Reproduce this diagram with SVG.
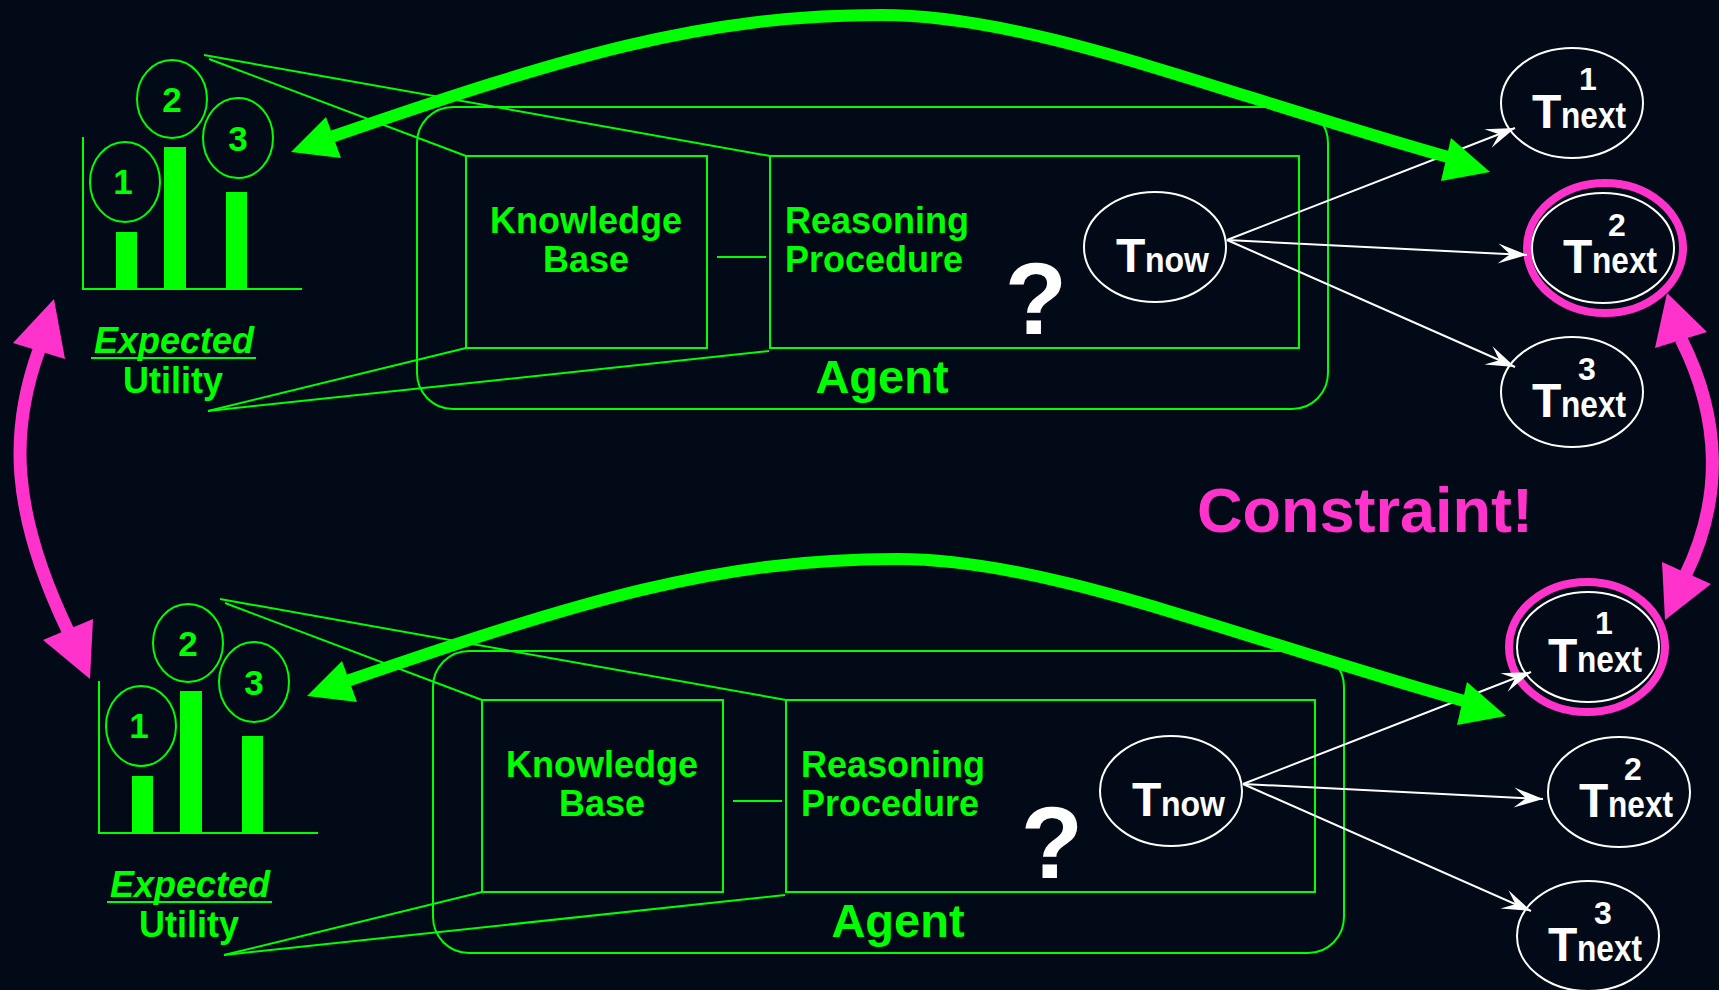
<svg xmlns="http://www.w3.org/2000/svg" width="1719" height="990" viewBox="0 0 1719 990">
<defs>
<style>
.g{fill:none;stroke:#00ff00;stroke-width:2}
.gf{fill:#00ff00}
.gt{fill:#00ff00;font-family:"Liberation Sans",Arial,sans-serif;font-weight:bold}
.w{fill:none;stroke:#ffffff;stroke-width:2}
.wt{fill:#ffffff;font-family:"Liberation Sans",Arial,sans-serif;font-weight:bold}
.big{fill:none;stroke:#00ff00;stroke-width:12}
.mag{fill:none;stroke:#ff33cc;stroke-width:13}
.mf{fill:#ff33cc}
.ring{fill:none;stroke:#ff33cc;stroke-width:8}
</style>
<marker id="wa" markerUnits="userSpaceOnUse" markerWidth="32" markerHeight="24" viewBox="-30 -12 32 24" refX="0" refY="0" orient="auto">
<path d="M0,0 L-29,-10 L-17,0 L-29,10 Z" fill="#ffffff"/>
</marker>
</defs>
<rect x="0" y="0" width="1719" height="990" fill="#010a16"/>

<!-- ===== TOP SCENARIO ===== -->
<g id="eu-top">
<line class="g" x1="83" y1="137" x2="83" y2="290" stroke-width="3"/>
<line class="g" x1="82" y1="289" x2="302" y2="289" stroke-width="3"/>
<rect class="gf" x="116" y="232" width="21" height="57"/>
<rect class="gf" x="164" y="147" width="22" height="142"/>
<rect class="gf" x="226" y="192" width="21" height="97"/>
<ellipse class="g" cx="125" cy="182" rx="35" ry="40"/>
<ellipse class="g" cx="172" cy="99" rx="35" ry="39"/>
<ellipse class="g" cx="238" cy="138" rx="35" ry="40"/>
<text class="gt" x="123" y="194" font-size="35" text-anchor="middle">1</text>
<text class="gt" x="172" y="112" font-size="35" text-anchor="middle">2</text>
<text class="gt" x="238" y="151" font-size="35" text-anchor="middle">3</text>
<text class="gt" x="174" y="353" font-size="36" font-style="italic" text-anchor="middle">Expected</text>
<line class="g" x1="91" y1="358" x2="256" y2="358" stroke-width="3"/>
<text class="gt" x="173" y="393" font-size="36" text-anchor="middle">Utility</text>
</g>

<g id="links-top">
<line class="g" x1="204" y1="55" x2="770" y2="156"/>
<line class="g" x1="209" y1="59" x2="466" y2="156"/>
<line class="g" x1="208" y1="411" x2="466" y2="348"/>
<line class="g" x1="208" y1="411" x2="769" y2="351"/>
</g>

<g id="agent-top">
<rect class="g" x="417" y="107" width="911" height="302" rx="36" ry="36" stroke-width="3"/>
<text class="gt" x="882" y="393" font-size="47" text-anchor="middle">Agent</text>
</g>
<g id="kb-top">
<rect class="g" x="466" y="156" width="241" height="192"/>
<text class="gt" x="586" y="233" font-size="36" text-anchor="middle">Knowledge</text>
<text class="gt" x="586" y="272" font-size="36" text-anchor="middle">Base</text>
</g>
<line class="g" x1="717" y1="257" x2="766" y2="257"/>
<g id="rp-top">
<rect class="g" x="770" y="156" width="529" height="192"/>
<text class="gt" x="785" y="233" font-size="36">Reasoning</text>
<text class="gt" x="785" y="272" font-size="36">Procedure</text>
<text class="wt" x="1036" y="334" font-size="102" text-anchor="middle">?</text>
</g>
<g id="tnow-top">
<ellipse class="w" cx="1155" cy="247" rx="71" ry="55"/>
<text class="wt" x="1116" y="272" font-size="48">T</text>
<text class="wt" x="1145" y="272" font-size="35" textLength="64" lengthAdjust="spacingAndGlyphs">now</text>
</g>
<g id="tnext1-top">
<ellipse class="w" cx="1572" cy="103" rx="71" ry="55"/>
<text class="wt" x="1532" y="128" font-size="48">T</text>
<text class="wt" x="1561" y="128" font-size="37" textLength="65" lengthAdjust="spacingAndGlyphs">next</text>
<text class="wt" x="1588" y="90" font-size="32" text-anchor="middle">1</text>
</g>
<g id="tnext2-top">
<ellipse class="ring" cx="1605" cy="248" rx="78" ry="65"/>
<ellipse class="w" cx="1603" cy="248" rx="71" ry="55"/>
<text class="wt" x="1563" y="273" font-size="48">T</text>
<text class="wt" x="1592" y="273" font-size="37" textLength="65" lengthAdjust="spacingAndGlyphs">next</text>
<text class="wt" x="1617" y="236" font-size="32" text-anchor="middle">2</text>
</g>
<g id="tnext3-top">
<ellipse class="w" cx="1572" cy="392" rx="71" ry="55"/>
<text class="wt" x="1532" y="417" font-size="48">T</text>
<text class="wt" x="1561" y="417" font-size="37" textLength="65" lengthAdjust="spacingAndGlyphs">next</text>
<text class="wt" x="1587" y="380" font-size="32" text-anchor="middle">3</text>
</g>

<!-- ===== BOTTOM SCENARIO ===== -->
<g id="eu-bottom" transform="translate(16,544)">
<line class="g" x1="83" y1="137" x2="83" y2="290" stroke-width="3"/>
<line class="g" x1="82" y1="289" x2="302" y2="289" stroke-width="3"/>
<rect class="gf" x="116" y="232" width="21" height="57"/>
<rect class="gf" x="164" y="147" width="22" height="142"/>
<rect class="gf" x="226" y="192" width="21" height="97"/>
<ellipse class="g" cx="125" cy="182" rx="35" ry="40"/>
<ellipse class="g" cx="172" cy="99" rx="35" ry="39"/>
<ellipse class="g" cx="238" cy="138" rx="35" ry="40"/>
<text class="gt" x="123" y="194" font-size="35" text-anchor="middle">1</text>
<text class="gt" x="172" y="112" font-size="35" text-anchor="middle">2</text>
<text class="gt" x="238" y="151" font-size="35" text-anchor="middle">3</text>
<text class="gt" x="174" y="353" font-size="36" font-style="italic" text-anchor="middle">Expected</text>
<line class="g" x1="91" y1="358" x2="256" y2="358" stroke-width="3"/>
<text class="gt" x="173" y="393" font-size="36" text-anchor="middle">Utility</text>
</g>

<g id="links-bottom" transform="translate(16,544)">
<line class="g" x1="204" y1="55" x2="770" y2="156"/>
<line class="g" x1="209" y1="59" x2="466" y2="156"/>
<line class="g" x1="208" y1="411" x2="466" y2="348"/>
<line class="g" x1="208" y1="411" x2="769" y2="351"/>
</g>

<g id="agent-bottom" transform="translate(16,544)">
<rect class="g" x="417" y="107" width="911" height="302" rx="36" ry="36" stroke-width="3"/>
<text class="gt" x="882" y="393" font-size="47" text-anchor="middle">Agent</text>
</g>
<g id="kb-bottom" transform="translate(16,544)">
<rect class="g" x="466" y="156" width="241" height="192"/>
<text class="gt" x="586" y="233" font-size="36" text-anchor="middle">Knowledge</text>
<text class="gt" x="586" y="272" font-size="36" text-anchor="middle">Base</text>
</g>
<line class="g" x1="733" y1="801" x2="782" y2="801"/>
<g id="rp-bottom" transform="translate(16,544)">
<rect class="g" x="770" y="156" width="529" height="192"/>
<text class="gt" x="785" y="233" font-size="36">Reasoning</text>
<text class="gt" x="785" y="272" font-size="36">Procedure</text>
<text class="wt" x="1036" y="334" font-size="102" text-anchor="middle">?</text>
</g>
<g id="tnow-bottom" transform="translate(16,544)">
<ellipse class="w" cx="1155" cy="247" rx="71" ry="55"/>
<text class="wt" x="1116" y="272" font-size="48">T</text>
<text class="wt" x="1145" y="272" font-size="35" textLength="64" lengthAdjust="spacingAndGlyphs">now</text>
</g>
<g id="tnext1-bottom" transform="translate(16,544)">
<ellipse class="ring" cx="1571" cy="103" rx="78" ry="65"/>
<ellipse class="w" cx="1572" cy="103" rx="71" ry="55"/>
<text class="wt" x="1532" y="128" font-size="48">T</text>
<text class="wt" x="1561" y="128" font-size="37" textLength="65" lengthAdjust="spacingAndGlyphs">next</text>
<text class="wt" x="1588" y="90" font-size="32" text-anchor="middle">1</text>
</g>
<g id="tnext2-bottom" transform="translate(16,544)">
<ellipse class="w" cx="1603" cy="248" rx="71" ry="55"/>
<text class="wt" x="1563" y="273" font-size="48">T</text>
<text class="wt" x="1592" y="273" font-size="37" textLength="65" lengthAdjust="spacingAndGlyphs">next</text>
<text class="wt" x="1617" y="236" font-size="32" text-anchor="middle">2</text>
</g>
<g id="tnext3-bottom" transform="translate(16,544)">
<ellipse class="w" cx="1572" cy="392" rx="71" ry="55"/>
<text class="wt" x="1532" y="417" font-size="48">T</text>
<text class="wt" x="1561" y="417" font-size="37" textLength="65" lengthAdjust="spacingAndGlyphs">next</text>
<text class="wt" x="1587" y="380" font-size="32" text-anchor="middle">3</text>
</g>

<text id="constraint" x="1197" y="532" font-size="63" fill="#ff33cc" font-family="'Liberation Sans',Arial,sans-serif" font-weight="bold">Constraint!</text>

<!-- ===== CONNECTORS ===== -->
<g id="connectors">
<g id="transitions-top">
<line class="w" x1="1227" y1="240" x2="1515" y2="128" marker-end="url(#wa)"/>
<line class="w" x1="1227" y1="240" x2="1527" y2="255" marker-end="url(#wa)"/>
<line class="w" x1="1227" y1="240" x2="1515" y2="367" marker-end="url(#wa)"/>
</g>
<g id="transitions-bottom" transform="translate(16,544)">
<line class="w" x1="1227" y1="240" x2="1515" y2="128" marker-end="url(#wa)"/>
<line class="w" x1="1227" y1="240" x2="1527" y2="255" marker-end="url(#wa)"/>
<line class="w" x1="1227" y1="240" x2="1515" y2="367" marker-end="url(#wa)"/>
</g>
<g id="arc-top">
<path class="big" d="M331,137 C567,56 701,15 881,15 C1031,15 1207,89 1448,157"/>
<polygon class="gf" points="291,152 326,117 341,158"/>
<polygon class="gf" points="1490,172 1451,138 1441,181"/>
</g>
<g id="arc-bottom" transform="translate(16,544)">
<path class="big" d="M331,137 C567,56 701,15 881,15 C1031,15 1207,89 1448,157"/>
<polygon class="gf" points="291,152 326,117 341,158"/>
<polygon class="gf" points="1490,172 1451,138 1441,181"/>
</g>
<g id="mag-left">
<path class="mag" d="M39,350 C10,430 10,510 68,631"/>
<polygon class="mf" points="54,299 13,343 65,359"/>
<polygon class="mf" points="90,679 43,640 93,619"/>
</g>
<g id="mag-right">
<path class="mag" d="M1681,339 C1722,420 1722,500 1686,574"/>
<polygon class="mf" points="1667,293 1707,332 1655,348"/>
<polygon class="mf" points="1665,620 1662,562 1711,584"/>
</g>
</g>
</svg>
